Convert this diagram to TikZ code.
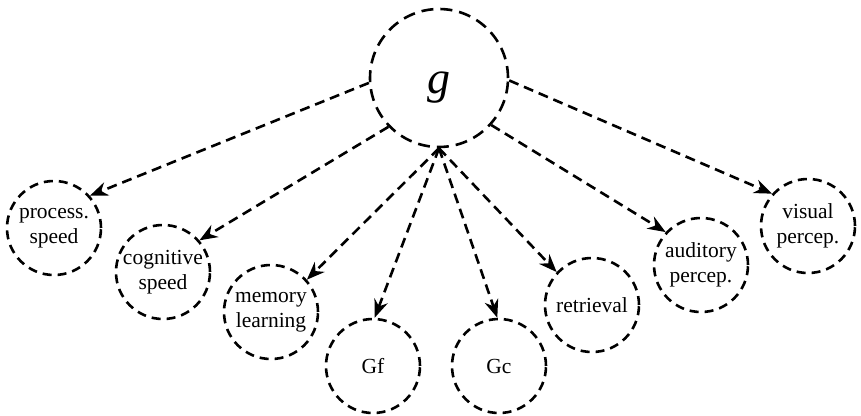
\documentclass[tikz,border=0pt]{standalone}
\usepackage{fontspec}
\setmainfont{Liberation Serif}
\usetikzlibrary{arrows.meta}
\begin{document}
\begin{tikzpicture}[x=1pt,y=-1pt,
  factor/.style={circle,draw,line width=2.6pt,dash pattern=on 9pt off 6pt,
    minimum size=94pt,inner sep=0pt,align=center,font=\fontsize{21.5}{25}\selectfont},
  gen/.style={circle,draw,line width=2.6pt,dash pattern=on 12pt off 7pt,
    minimum size=138pt,inner sep=0pt,font=\fontsize{46}{48}\selectfont\itshape},
  link/.style={line width=2.6pt,dash pattern=on 10pt off 6pt,
    -{Stealth[length=18pt,width=14pt,sep=0pt]}}]
\useasboundingbox (0,0) rectangle (861,415);
\node[gen] (g) at (439,78) {\smash{\raisebox{-15pt}{g}}};
\node[factor] (ps) at (54,228) {process.\\speed};
\node[factor] (cs) at (163,272) {cognitive\\speed};
\node[factor] (ml) at (271,312) {memory\\learning};
\node[factor] (gf) at (373,366) {Gf};
\node[factor] (gc) at (499,366) {Gc};
\node[factor] (rt) at (592,305) {retrieval};
\node[factor] (ap) at (701,265) {auditory\\percep.};
\node[factor] (vp) at (808,226) {visual\\percep.};
\draw[link] (g.184) -- (ps.42);
\draw[link] (g.224) -- (cs.41);
\draw[link] (g.270) -- (ml.42);
\draw[link] (g.270) -- (gf.88);
\draw[link] (g.270) -- (gc.92);
\draw[link] (g.270) -- (rt.137);
\draw[link] (g.318) -- (ap.137);
\draw[link] (g.358) -- (vp.138);
\end{tikzpicture}
\end{document}
